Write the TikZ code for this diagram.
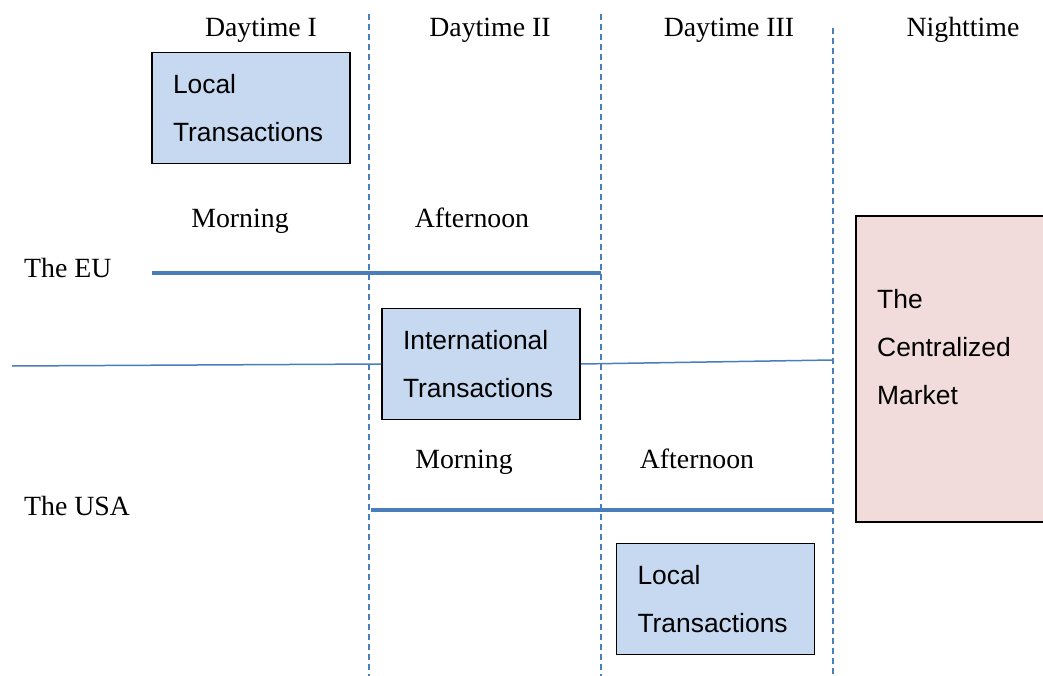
\documentclass[tikz,border=0pt]{standalone}
\usepackage{fontspec}
\setmainfont{Liberation Serif}
\setsansfont{Liberation Sans}
\usepackage{xcolor}
\usepackage{tikz}

\definecolor{lineblue}{HTML}{4A7EBB}
\definecolor{boxblue}{HTML}{C6D9F1}
\definecolor{boxpink}{HTML}{F2DCDB}

\tikzset{
  period/.style={font=\fontsize{27.8}{30}\selectfont, inner sep=0pt},
  txbox/.style={draw=black, line width=1.5pt, fill=boxblue, minimum width=198pt,
    minimum height=111pt, text width=156pt, inner xsep=21pt, inner ysep=0pt,
    align=left, font=\sffamily\fontsize{26.4}{48}\selectfont},
  mktbox/.style={draw=black, line width=1.5pt, fill=boxpink, minimum width=189pt,
    minimum height=306pt, inner sep=0pt},
  mkttxt/.style={align=left, inner sep=0pt, font=\sffamily\fontsize{26.4}{48}\selectfont},
  divider/.style={lineblue, line width=1.5pt, dash pattern=on 6pt off 4pt},
  session/.style={lineblue, line width=3.5pt},
  link/.style={lineblue, line width=1.5pt},
}

\begin{document}
\begin{tikzpicture}[x=1pt, y=-1pt]

\useasboundingbox (0,0) rectangle (1043,676);

% column dividers
\coordinate (d1t) at (369,14);
\coordinate (d1b) at (369,676);
\coordinate (d2t) at (601,14);
\coordinate (d2b) at (601,676);
\coordinate (d3t) at (833,28);
\coordinate (d3b) at (833,676);
\draw[divider] (d1t) -- (d1b);
\draw[divider] (d2t) -- (d2b);
\draw[divider] (d3t) -- (d3b);

% periods
\node[period, anchor=base] (day1) at (261,37) {Daytime I};
\node[period, anchor=base] (day2) at (490,37) {Daytime II};
\node[period, anchor=base] (day3) at (729,37) {Daytime III};
\node[period, anchor=base] (night) at (963,37) {Nighttime};

% the EU
\node[period, anchor=base west] (eu) at (24,277) {The EU};
\node[period, anchor=base] (eumorn) at (240,228) {Morning};
\node[period, anchor=base] (euaft) at (472,228) {Afternoon};
\coordinate (eul) at (152,273);
\coordinate (eur) at (601,273);
\draw[session] (eul) -- (eur);

% the USA
\node[period, anchor=base west] (usa) at (24,515) {The USA};
\node[period, anchor=base] (usmorn) at (464,468) {Morning};
\node[period, anchor=base] (usaft) at (697,468) {Afternoon};
\coordinate (usl) at (371,510);
\coordinate (usr) at (833,510);
\draw[session] (usl) -- (usr);

% transactions
\node[txbox] (loceu) at (251,108) {Local\\Transactions};
\node[txbox] (intl) at (481,364) {International\\Transactions};
\node[txbox] (locus) at (715.5,599) {Local\\Transactions};

\coordinate (linkl) at (12,366);
\coordinate (linkr) at (833,360);
\draw[link] (linkl) -- (intl.west);
\draw[link] (intl.east) -- (linkr);

% centralized market
\node[mktbox] (mkt) at (950.5,369) {};
\node[mkttxt, anchor=north west] (mkttext) at (877,289) {The\\Centralized\\Market};

\end{tikzpicture}
\end{document}
